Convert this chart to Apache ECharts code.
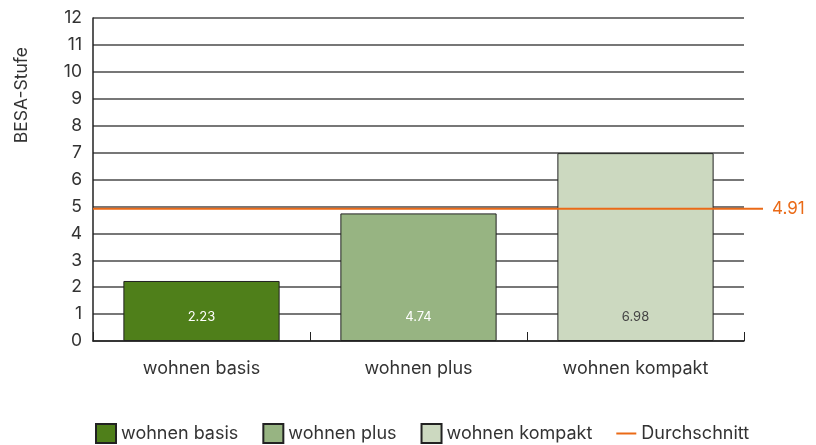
<!DOCTYPE html>
<html lang="de">
<head>
<meta charset="UTF-8">
<title>BESA-Stufe</title>
<script src="https://cdn.jsdelivr.net/npm/echarts@6/dist/echarts.min.js"></script>
<style>
  html, body { margin: 0; padding: 0; background: #fff; }
  #main { width: 816px; height: 445px; }
</style>
</head>
<body>
<div id="main"></div>
<script>
var categories = ['wohnen basis', 'wohnen plus', 'wohnen kompakt'];
var values = [2.23, 4.74, 6.98];
var average = 4.91;
var yTicks = [0, 1, 2, 3, 4, 5, 6, 7, 8, 9, 10, 11, 12];

var barColors = ['#4f7f1a', '#97b482', '#ccd9c0'];
var labelColors = ['#ffffff', '#ffffff', '#444444'];
var avgColor = '#ea6a17';
var font = 'Inter, "Noto Sans", sans-serif';

var chart = echarts.init(document.getElementById('main'));

var series = categories.map(function (name, i) {
    var d = categories.map(function (c, j) { return j === i ? values[i] : null; });
    return {
        name: name,
        type: 'bar',
        stack: 'bars',
        xAxisIndex: 0,
        yAxisIndex: 0,
        barCategoryGap: '28%',
        data: d,
        itemStyle: { color: barColors[i], borderColor: '#222', borderWidth: 1 },
        label: {
            show: true,
            position: 'insideBottom',
            distance: 17,
            color: labelColors[i],
            fontFamily: font,
            fontSize: 13
        }
    };
});

series.push({
    name: 'Durchschnitt',
    type: 'line',
    xAxisIndex: 1,
    yAxisIndex: 1,
    symbol: 'none',
    data: [[0, average], [1, average]],
    lineStyle: { color: avgColor, width: 2 },
    itemStyle: { color: avgColor },
    endLabel: {
        show: true,
        formatter: function () { return String(average); },
        color: avgColor,
        fontFamily: font,
        fontSize: 17,
        distance: 9
    },
    z: 5
});

chart.setOption({
    animation: false,
    textStyle: { fontFamily: font },
    grid: [
        { left: 93, right: 72, top: 18, bottom: 104 },
        { left: 93, right: 53, top: 18, bottom: 104 }
    ],
    legend: {
        bottom: 1,
        left: 95,
        padding: 0,
        itemWidth: 20,
        itemHeight: 19,
        itemGap: 24,
        itemTextGap: 10,
        textStyle: { color: '#333', fontSize: 18, fontFamily: font },
        data: [
            { name: 'wohnen basis', icon: 'rect' },
            { name: 'wohnen plus', icon: 'rect' },
            { name: 'wohnen kompakt', icon: 'rect' },
            { name: 'Durchschnitt', icon: 'path://M0,0H20V2H0Z', itemStyle: { color: avgColor } }
        ]
    },
    graphic: [{
        type: 'text',
        left: 13,
        top: 47,
        rotation: Math.PI / 2,
        style: { text: 'BESA-Stufe', fill: '#333', font: '17.5px ' + font }
    }],
    xAxis: [{
        type: 'category',
        gridIndex: 0,
        data: categories,
        axisLine: { lineStyle: { color: '#222', width: 1.5 } },
        axisTick: { show: true, inside: true, length: 9, lineStyle: { color: '#222' } },
        axisLabel: { color: '#333', fontSize: 18, margin: 19 }
    }, {
        type: 'value',
        gridIndex: 1,
        min: 0,
        max: 1,
        show: false
    }],
    yAxis: [{
        type: 'value',
        gridIndex: 0,
        min: yTicks[0],
        max: yTicks[yTicks.length - 1],
        interval: 1,
        axisLine: { show: true, lineStyle: { color: '#222', width: 1.5 } },
        axisTick: { show: false },
        axisLabel: { color: '#333', fontSize: 17.5, margin: 11 },
        splitLine: { lineStyle: { color: '#4a4a4a', width: 1.5 } }
    }, {
        type: 'value',
        gridIndex: 1,
        min: yTicks[0],
        max: yTicks[yTicks.length - 1],
        show: false
    }],
    series: series
});
</script>
</body>
</html>
